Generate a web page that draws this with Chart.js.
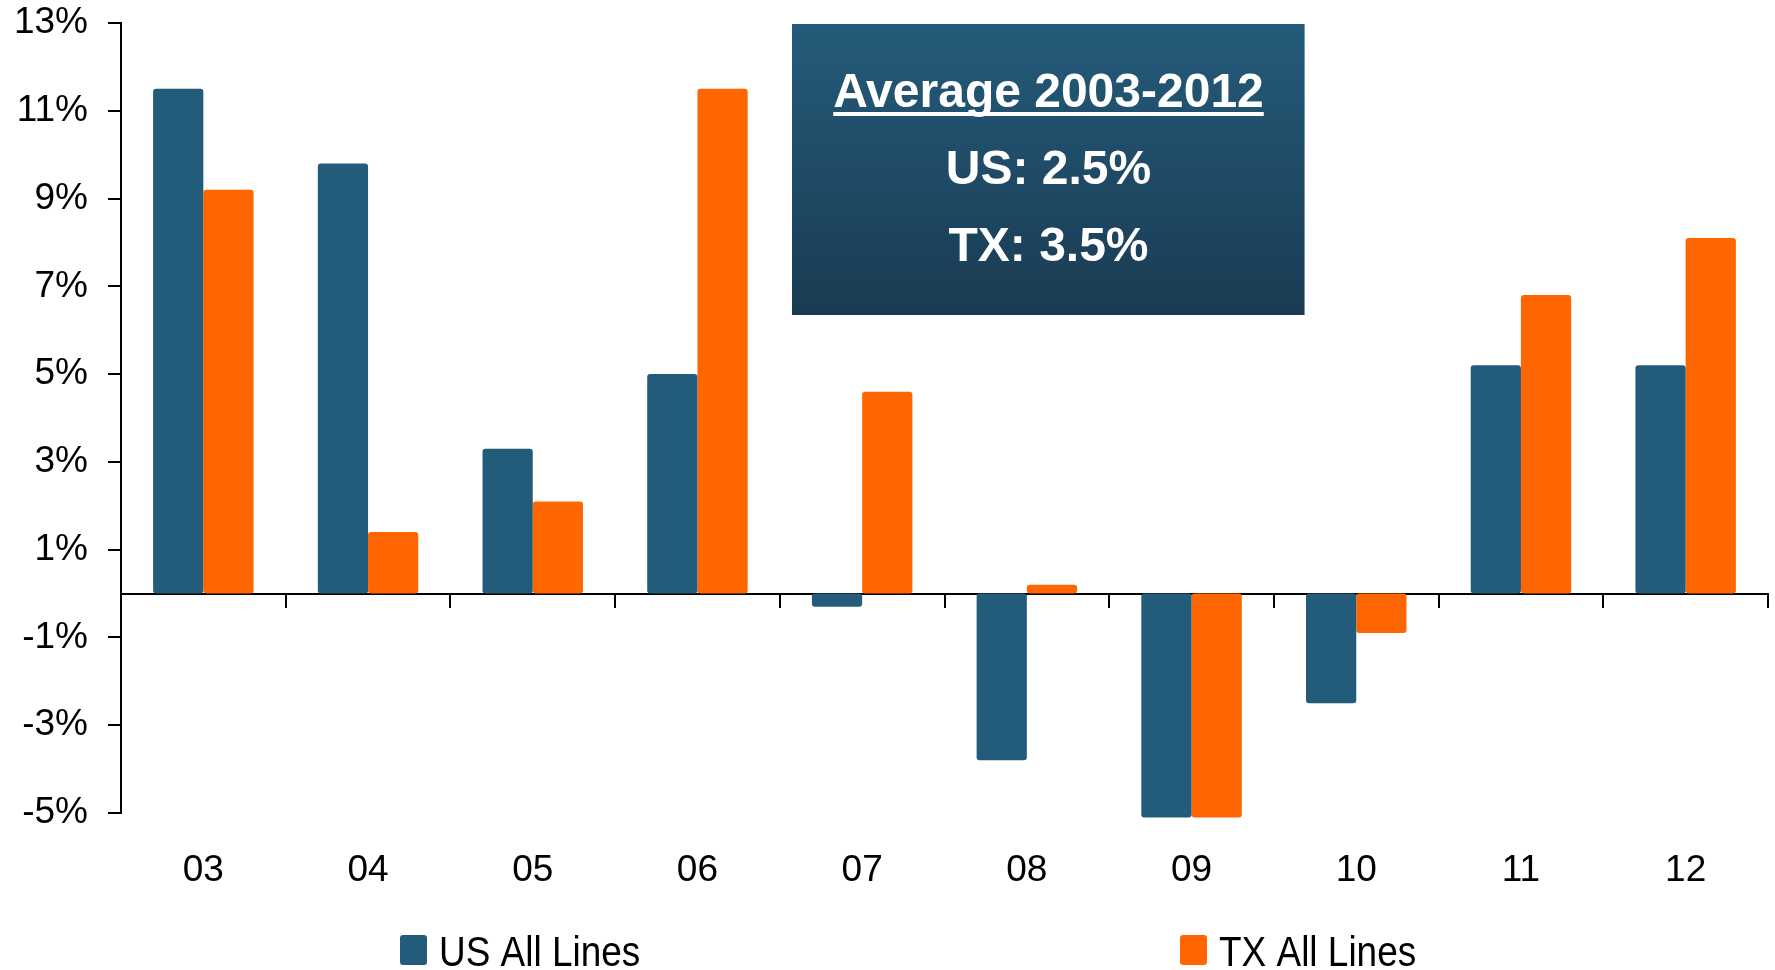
<!DOCTYPE html>
<html>
<head>
<meta charset="utf-8">
<script src="https://cdn.jsdelivr.net/npm/chart.js@4.4.0/dist/chart.umd.min.js"></script>
<style>
  html, body { margin: 0; padding: 0; background: #fff; }
  #wrap { width: 1775px; height: 970px; }
</style>
</head>
<body>
<div id="wrap"><canvas id="chart" width="1775" height="970"></canvas></div>
<script>
// data
const years = ['03', '04', '05', '06', '07', '08', '09', '10', '11', '12'];
const usAllLines = [11.5, 9.8, 3.3, 5.0, -0.3, -3.8, -5.1, -2.5, 5.2, 5.2];
const txAllLines = [9.2, 1.4, 2.1, 11.5, 4.6, 0.2, -5.1, -0.9, 6.8, 8.1];
const seriesNames = ['US All Lines', 'TX All Lines'];
const seriesColors = ['#235b7a', '#ff6600'];
const yTicks = [-5, -3, -1, 1, 3, 5, 7, 9, 11, 13];
const boxTitle = 'Average 2003-2012';
const boxLines = ['US: 2.5%', 'TX: 3.5%'];

const FONT = "'Liberation Sans', Arial, Helvetica, sans-serif";
Chart.defaults.font.family = FONT;
Chart.defaults.color = '#000';

// the dark box with the averages
const avgBox = {
  id: 'avgBox',
  afterDraw(chart) {
    const ctx = chart.ctx;
    const x0 = 792, y0 = chart.chartArea.top + 1, w = 513, h = 291;
    ctx.save();
    const g = ctx.createLinearGradient(0, y0, 0, y0 + h);
    g.addColorStop(0, '#245b7a');
    g.addColorStop(1, '#1a3b52');
    ctx.fillStyle = g;
    ctx.fillRect(x0, y0, w, h);
    ctx.strokeStyle = 'rgba(140,170,190,0.8)';
    ctx.lineWidth = 1;
    ctx.beginPath();
    ctx.moveTo(x0 + w - 0.5, y0);
    ctx.lineTo(x0 + w - 0.5, y0 + h);
    ctx.stroke();

    const cx = x0 + w / 2;
    ctx.fillStyle = '#fff';
    ctx.textAlign = 'center';
    ctx.textBaseline = 'alphabetic';
    ctx.font = 'bold 48px ' + FONT;
    ctx.fillText(boxTitle, cx, 107);
    const tw = ctx.measureText(boxTitle).width;
    ctx.fillRect(cx - tw / 2, 112, tw, 4);
    ctx.fillText(boxLines[0], cx, 184);
    ctx.fillText(boxLines[1], cx, 261);
    ctx.restore();
  }
};

// legend spread out under the chart
const wideLegend = {
  id: 'wideLegend',
  afterDraw(chart) {
    const ctx = chart.ctx;
    const spots = [400, 1180];
    ctx.save();
    chart.data.datasets.forEach((ds, i) => {
      const x = spots[i];
      ctx.fillStyle = ds.backgroundColor;
      ctx.beginPath();
      ctx.roundRect(x, 935, 27, 30, 3);
      ctx.fill();
      ctx.fillStyle = '#000';
      ctx.font = '42px ' + FONT;
      ctx.textBaseline = 'alphabetic';
      ctx.textAlign = 'left';
      ctx.save();
      ctx.translate(x + 39, 966);
      ctx.scale(0.88, 1);
      ctx.fillText(ds.label, 0, 0);
      ctx.restore();
    });
    ctx.restore();
  }
};

new Chart(document.getElementById('chart').getContext('2d'), {
  type: 'bar',
  data: {
    labels: years,
    datasets: [
      { label: seriesNames[0], data: usAllLines, backgroundColor: seriesColors[0] },
      { label: seriesNames[1], data: txAllLines, backgroundColor: seriesColors[1] }
    ]
  },
  options: {
    responsive: false,
    animation: false,
    layout: { padding: { top: 23, right: 7, bottom: 0, left: 0 } },
    datasets: {
      bar: {
        barPercentage: 1,
        categoryPercentage: 0.61,
        borderRadius: 3,
        borderSkipped: false,
        clip: false
      }
    },
    plugins: {
      legend: { display: false },
      tooltip: { enabled: false }
    },
    scales: {
      x: {
        type: 'category',
        offset: true,
        grid: { display: false, drawTicks: false },
        border: { display: false },
        ticks: { font: { size: 37 }, color: '#000', padding: 36, maxRotation: 0 },
        afterFit(scale) { scale.height = 157; }
      },
      x2: {
        type: 'category',
        position: { y: 0 },
        offset: true,
        grid: { display: true, offset: true, drawOnChartArea: false, drawTicks: true, tickLength: 13, color: '#000', lineWidth: 2 },
        border: { display: true, color: '#000', width: 2 },
        ticks: { display: false }
      },
      y: {
        min: -5,
        max: 13,
        afterBuildTicks(scale) { scale.ticks = yTicks.map(v => ({ value: v })); },
        grid: { display: true, drawOnChartArea: false, drawTicks: true, tickLength: 13, color: '#000', lineWidth: 2 },
        border: { display: true, color: '#000', width: 2 },
        ticks: { font: { size: 37 }, color: '#000', padding: 20, callback: v => v + '%' },
        afterFit(scale) {
          scale.width = 121;
          scale.paddingTop = 18;
          scale.paddingBottom = 18;
        }
      }
    }
  },
  plugins: [avgBox, wideLegend]
});
</script>
</body>
</html>
